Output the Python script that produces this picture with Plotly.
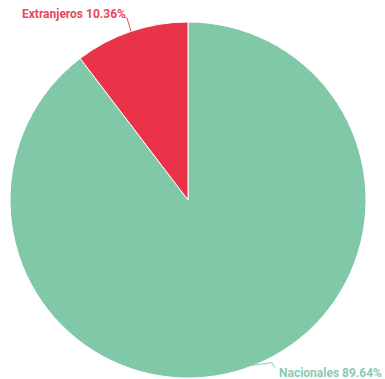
import math
import plotly.graph_objects as go

labels = ["Nacionales", "Extranjeros"]
values = [89.64, 10.36]
colors = ["#80C8A8", "#EA3349"]
text_colors = ["#8ACBAE", "#E8475A"]

W, H = 385, 379
cx, cy, R = 188, 200, 178

fig = go.Figure(go.Pie(
    labels=labels, values=values, sort=False, direction="clockwise",
    rotation=0, marker=dict(colors=colors, line=dict(color="white", width=1)),
    textinfo="none", hoverinfo="label+percent", showlegend=False,
    domain=dict(x=[(cx - R) / W, (cx + R) / W], y=[1 - (cy + R) / H, 1 - (cy - R) / H]),
))

def px(x, y):
    return x / W, 1 - y / H

shapes = []
annotations = []
total = sum(values)
cum = 0
for i, (lab, v) in enumerate(zip(labels, values)):
    mid = (cum + v / 2) / total * 2 * math.pi  # clockwise from 12 o'clock
    cum += v
    ex = cx + R * math.sin(mid)
    ey = cy - R * math.cos(mid)
    txt = f"{lab} {v:.2f}%"
    if ey < cy:
        pts = [(ex, ey), (ex - 4, ey - 13), (ex - 6, ey - 14)]
        tx, ty, anchor = ex - 3, ey - 17, "right"
    else:
        pts = [(ex - 3, ey - 2), (ex + 27, ey - 6), (ex + 30, ey - 1)]
        tx, ty, anchor = ex + 32, ey + 4, "left"
    path = "M " + " L ".join(f"{px(a, b)[0]} {px(a, b)[1]}" for a, b in pts)
    shapes.append(dict(type="path", xref="paper", yref="paper", path=path,
                       line=dict(color=text_colors[i], width=1)))
    ax_, ay_ = px(tx, ty)
    annotations.append(dict(x=ax_, y=ay_, xref="paper", yref="paper", text=txt,
                            showarrow=False, xanchor=anchor, yanchor="middle",
                            font=dict(family="Roboto", size=12, color=text_colors[i], weight="bold")))

fig.update_layout(width=W, height=H, margin=dict(l=0, r=0, t=0, b=0),
                  paper_bgcolor="white", plot_bgcolor="white",
                  shapes=shapes, annotations=annotations)
fig.write_html("out.html")
